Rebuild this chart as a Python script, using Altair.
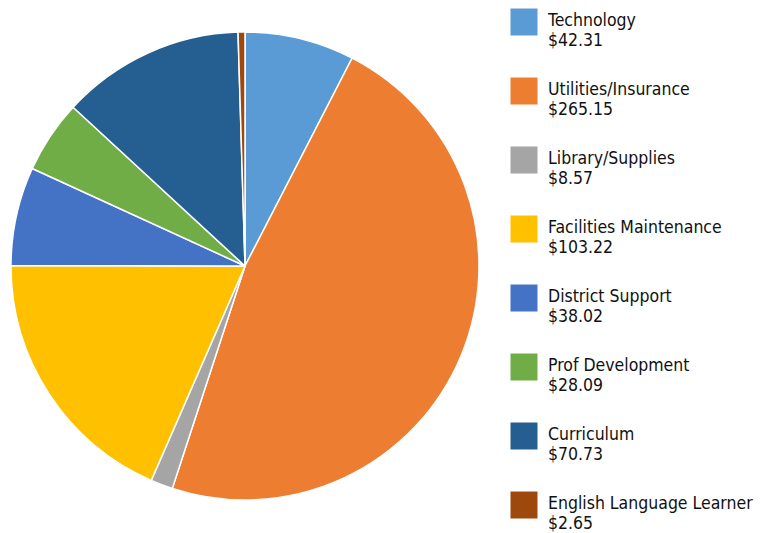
import altair as alt
import pandas as pd

categories = ["Technology", "Utilities/Insurance", "Library/Supplies", "Facilities Maintenance",
              "District Support", "Prof Development", "Curriculum", "English Language Learner"]
values = [42.31, 265.15, 8.57, 103.22, 38.02, 28.09, 70.73, 2.65]
value_labels = ["$42.31", "$265.15", "$8.57", "$103.22", "$38.02", "$28.09", "$70.73", "$2.65"]
colors = ["#5B9BD5", "#ED7D31", "#A5A5A5", "#FFC000", "#4472C4", "#70AD47", "#255E91", "#9E480E"]

df = pd.DataFrame({
    "category": categories,
    "value": values,
    "label": value_labels,
    "idx": list(range(len(categories))),
})

color_scale = alt.Scale(domain=categories, range=colors)

pie = alt.Chart(df).mark_arc(stroke="white", strokeWidth=1.5, radius=234).encode(
    theta=alt.Theta("value:Q", stack=True),
    order=alt.Order("idx:Q"),
    color=alt.Color("category:N", scale=color_scale, legend=None),
    x=alt.value(237),
    y=alt.value(258),
)

yscale = alt.Scale(domain=[0, 7], range=[14, 497])

squares = alt.Chart(df).mark_square(size=729, opacity=1, filled=True).encode(
    y=alt.Y("idx:Q", scale=yscale, axis=None),
    x=alt.value(516),
    color=alt.Color("category:N", scale=color_scale, legend=None),
)

font = "DejaVu Sans Condensed"
names = alt.Chart(df).mark_text(align="left", baseline="alphabetic", dy=4, font=font,
                                fontSize=17.5, color="#111111").encode(
    y=alt.Y("idx:Q", scale=yscale, axis=None),
    x=alt.value(540),
    text="category:N",
)
amounts = alt.Chart(df).mark_text(align="left", baseline="alphabetic", dy=24, font=font,
                                  fontSize=17.5, color="#111111").encode(
    y=alt.Y("idx:Q", scale=yscale, axis=None),
    x=alt.value(540),
    text="label:N",
)

chart = alt.layer(pie, squares, names, amounts).properties(
    width=753, height=517, padding=0
).configure_view(stroke=None)

chart.save("out.html", embed_options={"renderer": "svg", "actions": False})
